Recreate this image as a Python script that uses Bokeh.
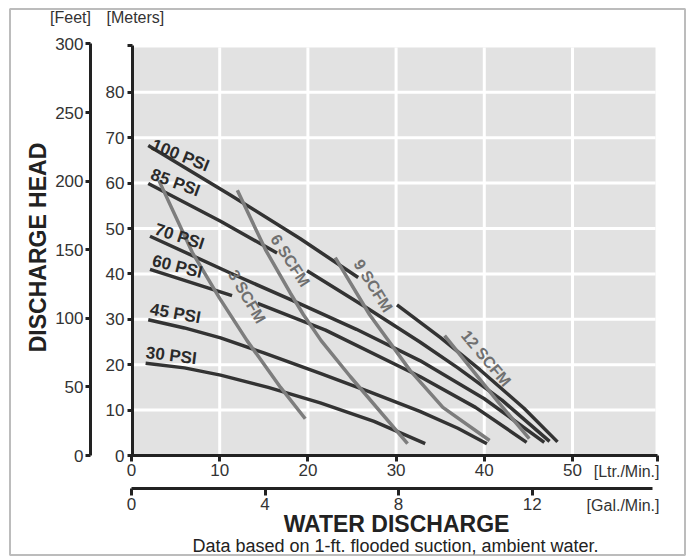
from bokeh.plotting import figure
from bokeh.models import (Range1d, LinearAxis, FixedTicker, Label, BoxAnnotation,
                          ColumnDataSource)
from bokeh.core.properties import value
from bokeh.embed import file_html
from bokeh.resources import INLINE

NaN = float("nan")
FONT = "Liberation Sans"

# ---------------- data (x: Ltr./Min., y: meters) ----------------
psi_names = ["100 PSI", "85 PSI", "70 PSI", "60 PSI", "45 PSI", "30 PSI"]
psi100_x = [1.9, 11.2, 19.1, 25.7, NaN, 30.1, 35.0, 39.5, 44.5, 48.3]
psi100_y = [68.3, 57.4, 47.8, 39.2, NaN, 33.2, 26.0, 18.9, 10.4, 3.0]
psi85_x = [1.9, 10.1, 16.5, NaN, 19.9, 26.7, 32.7, 37.0, 42.0, 47.4]
psi85_y = [59.9, 51.6, 44.6, NaN, 40.7, 32.5, 25.0, 19.3, 12.2, 3.1]
psi70_x = [2.1, 11.2, 18.3, 25.5, 32.7, 40.0, 46.8]
psi70_y = [48.3, 40.2, 34.1, 27.8, 20.9, 12.5, 2.9]
psi60_x = [2.1, 11.4, NaN, 14.3, 22.0, 32.7, 39.0, 44.8]
psi60_y = [41.0, 35.2, NaN, 33.5, 27.6, 17.4, 10.6, 2.9]
psi45_x = [1.9, 6.0, 10.1, 15.0, 21.4, 27.0, 32.7, 37.0, 40.3]
psi45_y = [29.9, 28.1, 25.9, 22.6, 18.1, 14.0, 9.7, 6.0, 2.6]
psi30_x = [1.6, 6.0, 10.1, 15.5, 21.4, 27.5, 33.3]
psi30_y = [20.3, 19.3, 17.7, 15.0, 11.6, 7.5, 2.6]

scfm_names = ["3 SCFM", "6 SCFM", "9 SCFM", "12 SCFM"]
scfm3_x = [3.1, 6.9, 10.0, 13.1, 16.9, 19.7]
scfm3_y = [60.6, 44.7, 34.6, 25.3, 15.0, 8.1]
scfm6_x = [12.0, 15.2, 18.0, 19.5, 21.5, 24.8, 31.3]
scfm6_y = [58.4, 45.3, 35.8, 31.0, 25.3, 17.4, 2.6]
scfm9_x = [23.1, 27.0, 31.6, 35.3, 40.6]
scfm9_y = [43.6, 31.0, 18.7, 10.6, 3.3]
scfm12_x = [35.5, 41.7, 45.1]
scfm12_y = [26.4, 11.5, 3.7]

# label anchors (centres) and text angles (degrees)
psi_label_x = [5.55, 4.98, 5.43, 5.2, 4.98, 4.52]
psi_label_y = [66.1, 60.1, 48.2, 41.6, 31.3, 22.0]
psi_label_angle = [-22, -20, -18, -14, -10, -7]
scfm_label_x = [13.1, 18.0, 27.4, 40.2]
scfm_label_y = [35.0, 42.95, 37.4, 21.4]
scfm_label_angle = [-60, -57, -58, -50]

# axes
meter_ticks = [0, 10, 20, 30, 40, 50, 60, 70, 80]
feet_ticks = [0, 50, 100, 150, 200, 250, 300]
ltr_ticks = [0, 10, 20, 30, 40, 50]
gal_ticks = [0, 4, 8, 12]
L_PER_GAL = 3.78541

# ---------------- layout (pixels) ----------------
W, H = 686, 556
X0, SX = 131.0, 8.82      # px of 0 L/min, px per L/min
Y0, SY = 455.0, 4.54      # px of 0 m, px per m
SY_FT = 1.372             # px per foot on the feet scale


def px2x(px):
    return (px - X0) / SX


def py2y(py):
    return (Y0 - py) / SY


M_TOP = py2y(45)          # top of the meters axis
GRAY_TOP = py2y(47)
L_END = px2x(657)         # end of the Ltr axis
GRAY_RIGHT = px2x(655)
G_END = px2x(652) / L_PER_GAL

p = figure(width=W, height=H,
           x_range=Range1d(px2x(0), px2x(W)), y_range=Range1d(py2y(H), py2y(0)),
           x_axis_type=None, y_axis_type=None,
           output_backend="svg", toolbar_location=None, min_border=0)
p.extra_y_ranges = {"ft": Range1d((Y0 - H) / SY_FT, Y0 / SY_FT)}
p.extra_x_ranges = {"gal": Range1d(px2x(0) / L_PER_GAL, px2x(W) / L_PER_GAL)}
p.background_fill_color = "white"
p.border_fill_color = "white"
p.outline_line_color = None

# plot area background
p.add_layout(BoxAnnotation(left=0, right=GRAY_RIGHT, bottom=0, top=GRAY_TOP,
                           fill_color="#e2e2e2", fill_alpha=1.0, line_color=None,
                           level="underlay"))
# white grid lines (from the tick lists)
vx = ltr_ticks[1:]
p.segment(x0=vx, y0=[0] * len(vx), x1=vx, y1=[GRAY_TOP] * len(vx),
          line_color="white", line_width=3)
hy = meter_ticks[1:]
p.segment(x0=[0] * len(hy), y0=hy, x1=[GRAY_RIGHT] * len(hy), y1=hy,
          line_color="white", line_width=3)


def style_axis(ax):
    ax.axis_line_color = "#222"
    ax.axis_line_width = 3
    ax.major_tick_line_color = "#222"
    ax.major_tick_line_width = 3
    ax.major_tick_out = 5
    ax.major_tick_in = 0
    ax.minor_tick_out = 0
    ax.minor_tick_in = 0
    ax.major_label_text_font = FONT
    ax.major_label_text_font_size = "17px"
    ax.major_label_text_color = "#333"
    ax.major_label_standoff = 3


m_ax = LinearAxis(ticker=FixedTicker(ticks=meter_ticks + [M_TOP]), bounds=(0, M_TOP),
                  fixed_location=px2x(132))
style_axis(m_ax)
m_ax.major_label_overrides = {M_TOP: ""}
p.add_layout(m_ax, "left")

ft_ax = LinearAxis(y_range_name="ft", ticker=FixedTicker(ticks=feet_ticks), bounds=(0, 300),
                   fixed_location=px2x(90))
style_axis(ft_ax)
ft_ax.major_label_standoff = 2
p.add_layout(ft_ax, "left")

l_ax = LinearAxis(ticker=FixedTicker(ticks=ltr_ticks + [L_END]), bounds=(0, L_END),
                  fixed_location=0)
style_axis(l_ax)
l_ax.major_tick_out = 6
l_ax.major_label_overrides = {L_END: ""}
l_ax.major_label_standoff = 2
p.add_layout(l_ax, "below")

g_ax = LinearAxis(x_range_name="gal", ticker=FixedTicker(ticks=gal_ticks), bounds=(0, G_END),
                  fixed_location=py2y(488))
style_axis(g_ax)
g_ax.major_tick_out = 7
g_ax.major_label_standoff = 2
p.add_layout(g_ax, "below")

# texts around the plot
texts = [
    ("[Feet]", px2x(70), py2y(17), "center", 0, "16px", "normal", "#333"),
    ("[Meters]", px2x(106), py2y(17), "left", 0, "16px", "normal", "#333"),
    ("[Ltr./Min.]", px2x(659), py2y(471), "right", 0, "16px", "normal", "#333"),
    ("[Gal./Min.]", px2x(659), py2y(505), "right", 0, "16px", "normal", "#333"),
    ("DISCHARGE HEAD", px2x(37), py2y(247), "center", 90, "23px", "bold", "#222"),
    ("WATER DISCHARGE", px2x(396), py2y(523), "center", 0, "23px", "bold", "#222"),
    ("Data based on 1-ft. flooded suction, ambient water.", px2x(395), py2y(545),
     "center", 0, "18px", "normal", "#222"),
]
for txt, x, y, al, ang, fs, fst, col in texts:
    p.add_layout(Label(x=x, y=y, text=txt, text_align=al, text_baseline="middle",
                       angle=ang, angle_units="deg", text_font=FONT, text_font_size=fs,
                       text_font_style=fst, text_color=col))

# curves
DARK = "#333333"
GRAY = "#7d7d7d"
for xs, ys in [(psi100_x, psi100_y), (psi85_x, psi85_y), (psi70_x, psi70_y),
               (psi60_x, psi60_y), (psi45_x, psi45_y), (psi30_x, psi30_y)]:
    p.line(xs, ys, line_color=DARK, line_width=3.5)
for xs, ys in [(scfm3_x, scfm3_y), (scfm6_x, scfm6_y), (scfm9_x, scfm9_y), (scfm12_x, scfm12_y)]:
    p.line(xs, ys, line_color=GRAY, line_width=3.5)

psi_src = ColumnDataSource(dict(x=psi_label_x, y=psi_label_y, t=psi_names, a=psi_label_angle))
p.text(x="x", y="y", text="t", angle="a", angle_units="deg", source=psi_src,
       text_font=value(FONT), text_font_style="bold", text_font_size="17px",
       text_color="#2a2a2a", text_align="center", text_baseline="middle")
scfm_src = ColumnDataSource(dict(x=scfm_label_x, y=scfm_label_y, t=scfm_names, a=scfm_label_angle))
p.text(x="x", y="y", text="t", angle="a", angle_units="deg", source=scfm_src,
       text_font=value(FONT), text_font_style="bold", text_font_size="16px",
       text_color="#707070", text_align="center", text_baseline="middle")

# outer frame line of the chart
p.add_layout(BoxAnnotation(left=px2x(9.5), right=px2x(W - 1.5), top=py2y(8.5), bottom=py2y(H - 1.5),
                           fill_color=None, line_color="#222", line_width=2, level="overlay"))

open("out.html", "w").write(file_html(p, INLINE))
